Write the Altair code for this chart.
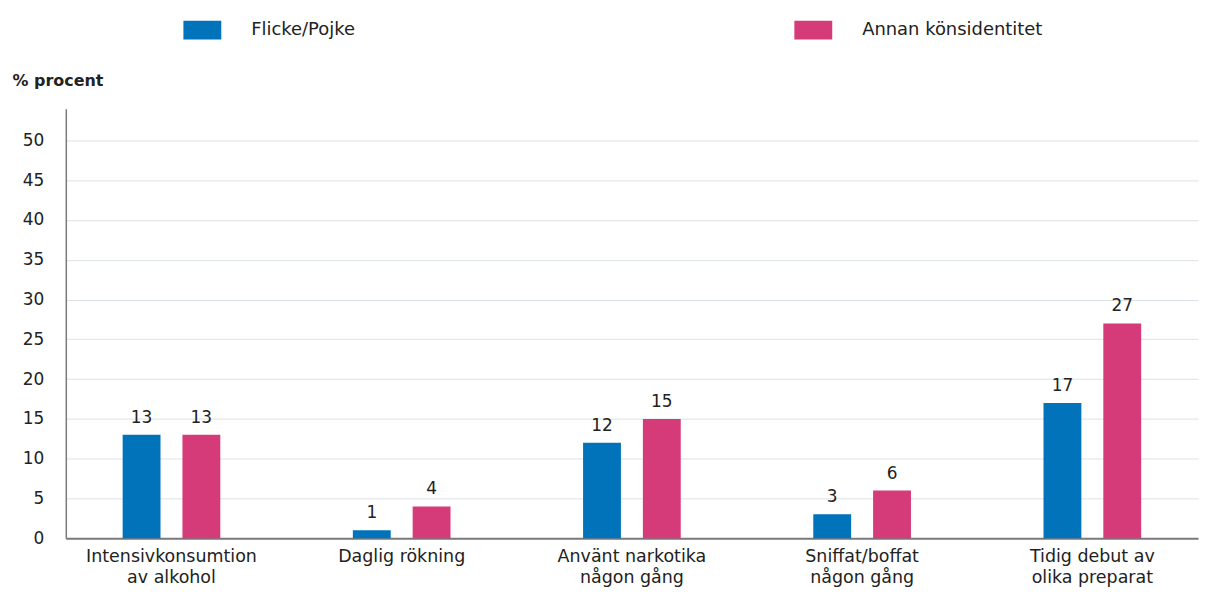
import altair as alt
import pandas as pd

categories = [
    "Intensivkonsumtion\nav alkohol",
    "Daglig rökning",
    "Använt narkotika\nnågon gång",
    "Sniffat/boffat\nnågon gång",
    "Tidig debut av\nolika preparat",
]
groups = ["Flicke/Pojke", "Annan könsidentitet"]
values_flicke_pojke = [13, 1, 12, 3, 17]
values_annan = [13, 4, 15, 6, 27]
colors = ["#0073ba", "#d53a79"]
y_ticks = [0, 5, 10, 15, 20, 25, 30, 35, 40, 45, 50]

rows = []
for c, a, b in zip(categories, values_flicke_pojke, values_annan):
    rows.append({"kategori": c, "grupp": groups[0], "procent": a})
    rows.append({"kategori": c, "grupp": groups[1], "procent": b})
df = pd.DataFrame(rows)

FONT = "DejaVu Sans"
TXT = "#222222"

x = alt.X(
    "kategori:N",
    sort=categories,
    title=None,
    scale=alt.Scale(paddingInner=0.33, paddingOuter=0.124),
    axis=alt.Axis(
        labelAngle=0,
        labelExpr="split(datum.value, '\\n')",
        labelFont=FONT,
        labelFontSize=17.5,
        labelColor=TXT,
        labelLineHeight=21,
        labelPadding=9,
        labelBaseline="top",
        ticks=False,
        domainColor="#7a7a7a",
        domainWidth=2,
        grid=False,
        labelLimit=300,
    ),
)
xoff = alt.XOffset(
    "grupp:N",
    sort=groups,
    scale=alt.Scale(paddingInner=0.367, paddingOuter=0.473),
)
y = alt.Y(
    "procent:Q",
    scale=alt.Scale(domain=[0, 54], nice=False),
    axis=alt.Axis(
        values=y_ticks,
        title="% procent",
        titleAngle=0,
        titleAlign="left",
        titleBaseline="alphabetic",
        titleX=-54,
        titleY=-23,
        titleFont=FONT,
        titleFontSize=16,
        titleFontWeight="bold",
        titleColor=TXT,
        labelFont=FONT,
        labelFontSize=17,
        labelColor=TXT,
        labelPadding=22,
        ticks=False,
        domainColor="#7a7a7a",
        domainWidth=1.5,
        gridColor="#dce2e5",
        gridWidth=1,
    ),
)
color = alt.Color(
    "grupp:N",
    sort=groups,
    scale=alt.Scale(domain=groups, range=colors),
    legend=alt.Legend(
        title=None,
        orient="none",
        legendX=118,
        legendY=-98,
        direction="horizontal",
        columns=2,
        columnPadding=440,
        symbolType="M-1,-0.5H1V0.5H-1Z",
        symbolSize=1444,
        symbolStrokeWidth=0,
        symbolOpacity=1,
        labelOffset=30,
        labelFont=FONT,
        labelFontSize=18,
        labelColor=TXT,
        padding=0,
        labelLimit=400,
    ),
)

bars = alt.Chart(df).mark_bar().encode(x=x, xOffset=xoff, y=y, color=color)
labels = alt.Chart(df).mark_text(
    baseline="bottom", dy=-8, font=FONT, fontSize=17, color=TXT
).encode(x=x, xOffset=xoff, y=y, text="procent:Q")

chart = (
    alt.layer(bars, labels)
    .properties(
        width=1136,
        height=431,
        padding={"left": 4, "top": 2, "right": 2, "bottom": 4},
    )
    .configure(background="white")
    .configure_view(strokeWidth=0, stroke="transparent")
)

chart.save("out.html", embed_options={"renderer": "svg", "actions": False})
